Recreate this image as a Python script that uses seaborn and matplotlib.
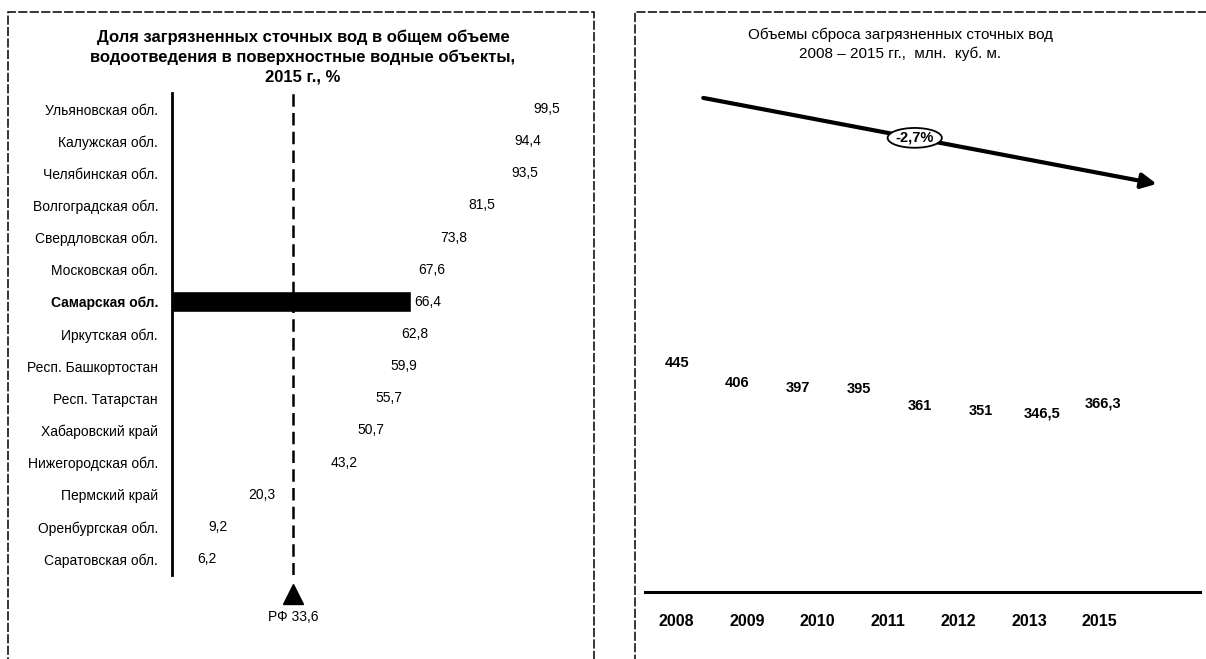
import matplotlib
matplotlib.use("Agg")
import matplotlib.pyplot as plt
import seaborn as sns
import numpy as np
from matplotlib.patches import Rectangle

# left panel: share of polluted wastewater, 2015, %
regions = ["Ульяновская обл.", "Калужская обл.", "Челябинская обл.", "Волгоградская обл.",
           "Свердловская обл.", "Московская обл.", "Самарская обл.", "Иркутская обл.",
           "Респ. Башкортостан", "Респ. Татарстан", "Хабаровский край", "Нижегородская обл.",
           "Пермский край", "Оренбургская обл.", "Саратовская обл."]
shares = [99.5, 94.4, 93.5, 81.5, 73.8, 67.6, 66.4, 62.8, 59.9, 55.7, 50.7, 43.2, 20.3, 9.2, 6.2]
highlight = "Самарская обл."
rf_avg = 33.6

# right panel: discharge volumes, mln m3
volumes = [445, 406, 397, 395, 361, 351, 346.5, 366.3]
years = ["2008", "2009", "2010", "2011", "2012", "2013", "2015"]
trend = "-2,7%"

sns.set_style("white")
plt.rcParams["font.family"] = ["Liberation Sans", "DejaVu Sans"]
plt.rcParams["text.color"] = "black"
plt.rcParams["xtick.color"] = "black"
plt.rcParams["ytick.color"] = "black"

W, H = 1206, 659
fig = plt.figure(figsize=(W / 100, H / 100), dpi=100)


def px_box(x0, y0, x1, y1):
    return [x0 / W, 1 - y1 / H, (x1 - x0) / W, (y1 - y0) / H]


# dashed panel frames
for x0, x1 in [(8, 594), (635, 1210)]:
    fig.patches.append(Rectangle((x0 / W, -0.1), (x1 - x0) / W, 1.1 - 12 / H,
                                 transform=fig.transFigure, fill=False,
                                 lw=1.1, ls=(0, (6, 1.5)), ec="black"))

# ---------- left panel ----------
ax1 = fig.add_axes(px_box(172, 93, 172 + 118 * 3.6, 575))
palette = {r: ("black" if r == highlight else "white") for r in regions}
sns.barplot(x=shares, y=regions, hue=regions, palette=palette, legend=False,
            width=0.65, orient="h", ax=ax1)
ax1.set_xlim(0, 118)
ax1.set_ylim(len(regions) - 0.5, -0.5)
for i, v in enumerate(shares):
    ax1.text(v + 0.8, i, f"{v:.1f}".replace(".", ","), va="center", ha="left",
             fontsize=10)
ax1.axvline(rf_avg, color="black", lw=1.8, ls=(0, (5, 2.5)))
ax1.plot([rf_avg], [15.1], marker="^", ms=15, color="black", clip_on=False)
ax1.text(rf_avg, 15.8, "РФ " + f"{rf_avg:.1f}".replace(".", ","), ha="center",
         va="center", fontsize=10)
for s in ["top", "right", "bottom"]:
    ax1.spines[s].set_visible(False)
ax1.spines["left"].set_linewidth(2)
ax1.spines["left"].set_color("black")
ax1.set_xticks([])
ax1.set_xlabel("")
ax1.tick_params(axis="y", length=0, pad=10, labelsize=10)
for lab in ax1.get_yticklabels():
    if lab.get_text() == highlight:
        lab.set_fontweight("bold")

fig.text(303 / W, 1 - 57 / H,
         "Доля загрязненных сточных вод в общем объеме\n"
         "водоотведения в поверхностные водные объекты,\n2015 г., %",
         ha="center", va="center", fontsize=12, fontweight="bold", linespacing=1.4)

# ---------- right panel ----------
ax2 = fig.add_axes(px_box(645, 80, 1200, 592))
sns.barplot(x=list(range(len(volumes))), y=volumes, color="white", ax=ax2)
ax2.set_xlim(-0.52, 8.6)
ax2.set_ylim(0, 512 / 0.515)
for i, v in enumerate(volumes):
    txt = f"{v:g}".replace(".", ",")
    ax2.text(i, v, txt, ha="center", va="center", fontsize=10.5, fontweight="bold")
ax2.set_xticks(np.linspace(0, 6.95, len(years)))
ax2.set_xticklabels(years, fontsize=11.5, fontweight="bold")
ax2.tick_params(axis="x", length=0, pad=16)
ax2.set_yticks([])
ax2.set_ylabel("")
for s in ["top", "right", "left"]:
    ax2.spines[s].set_visible(False)
ax2.spines["bottom"].set_linewidth(2.2)
ax2.spines["bottom"].set_color("black")

# trend arrow
ax2.annotate("", xy=(0.922, 0.797), xytext=(0.105, 0.965), xycoords="axes fraction",
             arrowprops=dict(arrowstyle="-|>,head_length=0.9,head_width=0.45",
                             lw=3, color="black", shrinkA=0, shrinkB=0))
ax2.text(0.486, 0.887, trend, transform=ax2.transAxes, ha="center", va="center",
         fontsize=10.5, fontweight="bold",
         bbox=dict(boxstyle="ellipse,pad=0.0", fc="white", ec="black", lw=1.3))

fig.text(900 / W, 1 - 44 / H,
         "Объемы сброса загрязненных сточных вод\n2008 – 2015 гг.,  млн.  куб. м.",
         ha="center", va="center", fontsize=11, linespacing=1.4)

fig.savefig("out.png", dpi=100)
